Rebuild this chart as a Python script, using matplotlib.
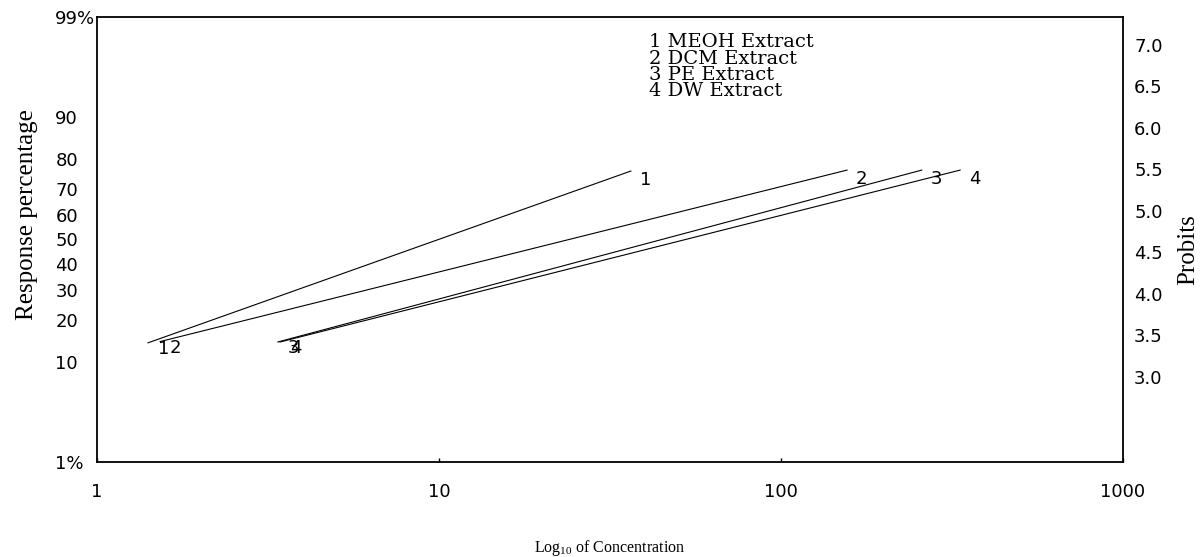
import matplotlib
matplotlib.use("Agg")
import matplotlib.pyplot as plt
from matplotlib.ticker import NullLocator, FixedLocator
from statistics import NormalDist

# ---------------- data ----------------
series_ids = ["1", "2", "3", "4"]
legend_labels = ["1 MEOH Extract", "2 DCM Extract", "3 PE Extract", "4 DW Extract"]
conc_start = [1.41, 1.53, 3.38, 3.43]        # concentration at lower end of line
conc_end = [36.4, 156.0, 258.0, 334.0]       # concentration at upper end of line
resp_start = [14.0, 14.3, 14.2, 14.2]        # response % at lower end
resp_end = [76.3, 76.6, 76.6, 76.6]          # response % at upper end

x_ticks = [1, 10, 100, 1000]
x_tick_labels = ["1", "10", "100", "1000"]
pct_ticks = [1, 10, 20, 30, 40, 50, 60, 70, 80, 90, 99]
pct_tick_labels = ["1%", "10", "20", "30", "40", "50", "60", "70", "80", "90", "99%"]
probit_ticks = [3.0, 3.5, 4.0, 4.5, 5.0, 5.5, 6.0, 6.5, 7.0]
probit_tick_labels = ["3.0", "3.5", "4.0", "4.5", "5.0", "5.5", "6.0", "6.5", "7.0"]
right_limits = (1.976, 7.337)

_nd = NormalDist()


def probit(pct):
    return 5.0 + _nd.inv_cdf(pct / 100.0)


# ---------------- figure ----------------
fig = plt.figure(figsize=(12.03, 5.57), dpi=100)
ax = fig.add_axes([97 / 1203, 95 / 557, 1026 / 1203, 445 / 557])

ax.set_xscale("log")
ax.set_xlim(1, 1000)
ax.set_ylim(probit(1), probit(99))

for s in ax.spines.values():
    s.set_linewidth(1.3)
    s.set_color("black")

TICK_FONT = dict(fontsize=13, family="DejaVu Sans")

# x axis
ax.xaxis.set_major_locator(FixedLocator(x_ticks))
ax.xaxis.set_minor_locator(NullLocator())
ax.set_xticklabels(x_tick_labels, **TICK_FONT)
ax.tick_params(axis="x", direction="in", length=3, width=1, pad=15, top=False)

# left axis (probit scale shown as percentages)
ax.yaxis.set_major_locator(FixedLocator([probit(p) for p in pct_ticks]))
ax.yaxis.set_minor_locator(NullLocator())
ax.set_yticklabels(pct_tick_labels, **TICK_FONT)
ax.tick_params(axis="y", length=0, pad=30)
for lbl in ax.get_yticklabels():
    lbl.set_horizontalalignment("left")

# right axis (probits)
ax2 = ax.twinx()
ax2.set_ylim(*right_limits)
ax2.yaxis.set_major_locator(FixedLocator(probit_ticks))
ax2.yaxis.set_minor_locator(NullLocator())
ax2.set_yticklabels(probit_tick_labels, **TICK_FONT)
ax2.tick_params(axis="y", length=0, pad=8)
for s in ax2.spines.values():
    s.set_visible(False)

# lines
for sid, x0, x1, y0, y1 in zip(series_ids, conc_start, conc_end, resp_start, resp_end):
    ax.plot([x0, x1], [probit(y0), probit(y1)], color="black", lw=0.8)
    ax.annotate(sid, (x0, probit(y0)), xytext=(11, -4.5), textcoords="offset points",
                ha="center", va="center", **TICK_FONT)
    ax.annotate(sid, (x1, probit(y1)), xytext=(10.5, -6.5), textcoords="offset points",
                ha="center", va="center", **TICK_FONT)

# legend text block
for i, t in enumerate(legend_labels):
    fig.text(649 / 1203, 1 - (42 + 16.5 * i) / 557, t, ha="left", va="center",
             fontsize=14, family="DejaVu Serif")

# axis labels
ax.set_xlabel(r"Log$_{\mathregular{10}}$ of Concentration", fontsize=11.5,
              family="Liberation Serif")
ax.xaxis.label.set_va("center")
ax.xaxis.set_label_coords(0.5, (462 - 548) / 445)

ax.set_ylabel("Response percentage", fontsize=18, family="Liberation Serif")
ax.yaxis.label.set_va("center")
ax.yaxis.set_label_coords((27 - 97) / 1026, (462 - 215) / 445)

ax2.set_ylabel("Probits", fontsize=18, family="Liberation Serif", rotation=90)
ax2.yaxis.label.set_va("center")
ax2.yaxis.set_label_coords((1188 - 97) / 1026, (462 - 250) / 445)

fig.savefig("out.png", dpi=100)
